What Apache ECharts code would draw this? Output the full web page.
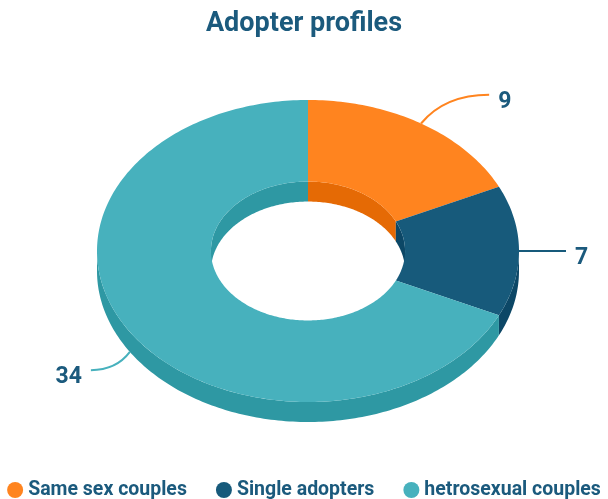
<!DOCTYPE html>
<html>
<head>
<meta charset="utf-8">
<script src="https://cdn.jsdelivr.net/npm/echarts@6/dist/echarts.min.js"></script>
<style>
  html, body { margin: 0; padding: 0; background: #fff; }
  #chart { width: 608px; height: 499px; }
</style>
</head>
<body>
<div id="chart"></div>
<script>
  // data
  const categories = ['Same sex couples', 'Single adopters', 'hetrosexual couples'];
  const values = [9, 7, 34];

  // colours: top face / side face for each slice
  const topColors = ['#FF841F', '#175A7B', '#47B1BD'];
  const sideColors = ['#E56A05', '#0C4766', '#2E98A3'];
  const textColor = '#1B5A7D';

  const total = values.reduce((a, b) => a + b, 0);

  // angle in degrees, clockwise from 12 o'clock
  function pt(cx, cy, rx, ry, t) {
    const r = t * Math.PI / 180;
    return [cx + rx * Math.sin(r), cy - ry * Math.cos(r)];
  }
  function arc(cx, cy, rx, ry, a0, a1) {
    const pts = [];
    const n = Math.max(2, Math.ceil(Math.abs(a1 - a0)));
    for (let k = 0; k <= n; k++) {
      pts.push(pt(cx, cy, rx, ry, a0 + (a1 - a0) * k / n));
    }
    return pts;
  }

  function renderSlice(params, api) {
    const i = params.seriesIndex;
    const W = api.getWidth();
    const cx = W / 2 + 4, cy = 251;
    const rx = 211, ry = 151;
    const irx = rx * 0.46, iry = ry * 0.46;
    const depth = 20;

    let before = 0;
    for (let k = 0; k < i; k++) before += values[k];
    const a0 = 360 * before / total;
    const a1 = a0 + 360 * api.value(0) / total;

    const children = [];

    // outer side, visible on the front half
    const lo = Math.max(a0, 90), hi = Math.min(a1, 270);
    if (hi > lo) {
      children.push({
        type: 'polygon', z2: 1,
        shape: { points: arc(cx, cy, rx, ry, lo, hi).concat(arc(cx, cy + depth, rx, ry, hi, lo)) },
        style: { fill: sideColors[i] }
      });
    }
    // inner wall, visible on the back half
    [[0, 90], [270, 360]].forEach(function (r) {
      const l = Math.max(a0, r[0]), h = Math.min(a1, r[1]);
      if (h > l) {
        children.push({
          type: 'polygon', z2: 1,
          shape: { points: arc(cx, cy, irx, iry, l, h).concat(arc(cx, cy + depth, irx, iry, h, l)) },
          style: { fill: sideColors[i] }
        });
      }
    });
    // top face
    children.push({
      type: 'polygon', z2: 10,
      shape: { points: arc(cx, cy, rx, ry, a0, a1).concat(arc(cx, cy, irx, iry, a1, a0)) },
      style: { fill: topColors[i] }
    });

    // leader line + label
    const mid = (a0 + a1) / 2;
    const s = Math.sin(mid * Math.PI / 180), c = Math.cos(mid * Math.PI / 180);
    const start = pt(cx, cy, rx, ry, mid);
    if (c < -0.1) start[1] += depth;
    const dir = s >= 0 ? 1 : -1;
    const run = 47 + (c > 0 ? 25 : 15) * c;
    const end = [start[0] + dir * run, start[1] - c * 34];
    children.push({
      type: 'bezierCurve', z2: 20,
      shape: {
        x1: start[0], y1: start[1], x2: end[0], y2: end[1],
        cpx1: start[0] + (end[0] - start[0]) * 0.35, cpy1: end[1]
      },
      style: { stroke: topColors[i], lineWidth: 2, fill: null }
    });
    children.push({
      type: 'text', z2: 20,
      x: end[0] + dir * 9, y: end[1] + 7,
      style: {
        text: String(api.value(0)),
        fill: textColor,
        font: 'bold 23px Roboto',
        align: dir > 0 ? 'left' : 'right',
        verticalAlign: 'middle'
      }
    });

    return { type: 'group', children: children };
  }

  const chart = echarts.init(document.getElementById('chart'));
  chart.setOption({
    animation: false,
    title: {
      text: 'Adopter profiles',
      left: 'center',
      top: 6,
      padding: [5, 0, 5, 11],
      textStyle: { color: textColor, fontSize: 27, fontWeight: 'bold', fontFamily: 'Roboto' }
    },
    legend: {
      bottom: -1,
      left: 'center',
      padding: [0, 0, 0, 6],
      icon: 'circle',
      itemWidth: 16,
      itemHeight: 16,
      itemGap: 29,
      data: categories,
      textStyle: { color: textColor, fontSize: 19.5, fontWeight: 'bold', fontFamily: 'Roboto' }
    },
    series: categories.map(function (name, i) {
      return {
        type: 'custom',
        name: name,
        coordinateSystem: 'none',
        itemStyle: { color: topColors[i] },
        renderItem: renderSlice,
        data: [[values[i]]]
      };
    })
  });
</script>
</body>
</html>
